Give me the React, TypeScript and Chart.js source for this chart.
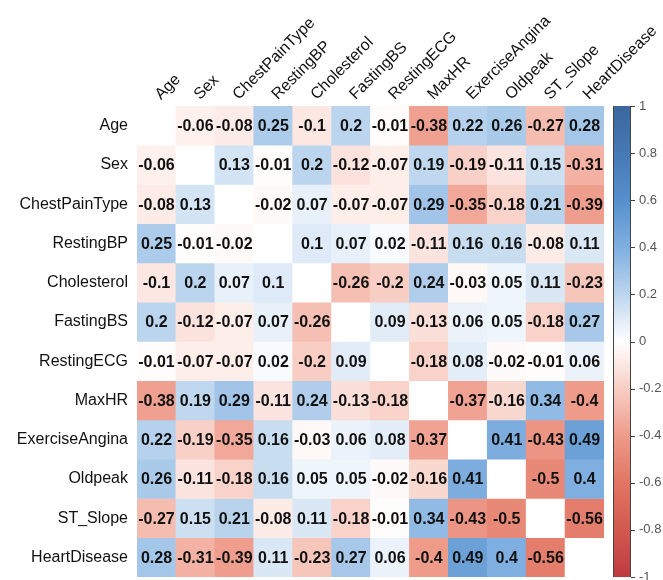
import React, { useEffect, useRef } from "react";
import { Chart, registerables } from "chart.js";

Chart.register(...registerables);

const variables = [
  "Age",
  "Sex",
  "ChestPainType",
  "RestingBP",
  "Cholesterol",
  "FastingBS",
  "RestingECG",
  "MaxHR",
  "ExerciseAngina",
  "Oldpeak",
  "ST_Slope",
  "HeartDisease",
];

// correlation matrix, rows in the same order as variables (null = diagonal, left blank)
const corrValues: (number | null)[][] = [
  [null, -0.06, -0.08, 0.25, -0.1, 0.2, -0.01, -0.38, 0.22, 0.26, -0.27, 0.28],
  [-0.06, null, 0.13, -0.01, 0.2, -0.12, -0.07, 0.19, -0.19, -0.11, 0.15, -0.31],
  [-0.08, 0.13, null, -0.02, 0.07, -0.07, -0.07, 0.29, -0.35, -0.18, 0.21, -0.39],
  [0.25, -0.01, -0.02, null, 0.1, 0.07, 0.02, -0.11, 0.16, 0.16, -0.08, 0.11],
  [-0.1, 0.2, 0.07, 0.1, null, -0.26, -0.2, 0.24, -0.03, 0.05, 0.11, -0.23],
  [0.2, -0.12, -0.07, 0.07, -0.26, null, 0.09, -0.13, 0.06, 0.05, -0.18, 0.27],
  [-0.01, -0.07, -0.07, 0.02, -0.2, 0.09, null, -0.18, 0.08, -0.02, -0.01, 0.06],
  [-0.38, 0.19, 0.29, -0.11, 0.24, -0.13, -0.18, null, -0.37, -0.16, 0.34, -0.4],
  [0.22, -0.19, -0.35, 0.16, -0.03, 0.06, 0.08, -0.37, null, 0.41, -0.43, 0.49],
  [0.26, -0.11, -0.18, 0.16, 0.05, 0.05, -0.02, -0.16, 0.41, null, -0.5, 0.4],
  [-0.27, 0.15, 0.21, -0.08, 0.11, -0.18, -0.01, 0.34, -0.43, -0.5, null, -0.56],
  [0.28, -0.31, -0.39, 0.11, -0.23, 0.27, 0.06, -0.4, 0.49, 0.4, -0.56, null],
];

const colorbarTicks = [1, 0.8, 0.6, 0.4, 0.2, 0, -0.2, -0.4, -0.6, -0.8, -1];

const colorStops = [-1, -0.8, -0.6, -0.4, -0.2, 0, 0.2, 0.4, 0.6, 0.8, 1];
const stopColors = [
  "#BE3A40",
  "#D2594F",
  "#E17563",
  "#EE9B8A",
  "#F8CEC4",
  "#FFFFFF",
  "#BCD5EE",
  "#7FAFE0",
  "#5590CC",
  "#4679B5",
  "#3A679D",
];

const FONT = '"Liberation Sans", Arial, Helvetica, sans-serif';

function hexToRgb(h: string): number[] {
  const n = parseInt(h.slice(1), 16);
  return [(n >> 16) & 255, (n >> 8) & 255, n & 255];
}

function colorFor(v: number | null): string {
  if (v === null) return "#FFFFFF";
  for (let i = 0; i < colorStops.length - 1; i++) {
    const a = colorStops[i];
    const b = colorStops[i + 1];
    if (v >= a && v <= b) {
      const t = (v - a) / (b - a);
      const ca = hexToRgb(stopColors[i]);
      const cb = hexToRgb(stopColors[i + 1]);
      const c = ca.map((x, k) => Math.round(x + (cb[k] - x) * t));
      return `rgb(${c[0]},${c[1]},${c[2]})`;
    }
  }
  return "#FFFFFF";
}

const valueLabels = {
  id: "valueLabels",
  afterDatasetsDraw(chart: any) {
    const ctx = chart.ctx;
    ctx.save();
    ctx.font = `bold 16px ${FONT}`;
    ctx.fillStyle = "#111111";
    ctx.textAlign = "center";
    ctx.textBaseline = "middle";
    chart.data.datasets.forEach((_ds: any, r: number) => {
      const meta = chart.getDatasetMeta(r);
      meta.data.forEach((el: any, c: number) => {
        const v = corrValues[r][c];
        if (v === null) return;
        const p = el.getProps(["x", "y", "base"], true);
        ctx.fillText(String(v), p.x, (p.y + p.base) / 2 + 1);
      });
    });
    ctx.restore();
  },
};

const colorBar = {
  id: "colorBar",
  afterDraw(chart: any) {
    const ctx = chart.ctx;
    const cb = chart.scales.cb;
    const area = chart.chartArea;
    const x0 = area.right + 9;
    const w = 18;
    const yTop = cb.getPixelForValue(1);
    const yBot = cb.getPixelForValue(-1);
    ctx.save();
    const grad = ctx.createLinearGradient(0, yBot, 0, yTop);
    colorStops.forEach((s, i) => grad.addColorStop((s + 1) / 2, stopColors[i]));
    ctx.fillStyle = grad;
    ctx.fillRect(x0, yTop, w, yBot - yTop);
    ctx.strokeStyle = "#444444";
    ctx.lineWidth = 1;
    ctx.beginPath();
    ctx.moveTo(x0 + 0.5, yTop);
    ctx.lineTo(x0 + 0.5, yBot);
    ctx.moveTo(x0 + w - 0.5, yTop);
    ctx.lineTo(x0 + w - 0.5, yBot);
    colorbarTicks.forEach((v) => {
      const y = Math.round(cb.getPixelForValue(v)) + 0.5;
      ctx.moveTo(x0 + w, y);
      ctx.lineTo(x0 + w + 4, y);
    });
    ctx.stroke();
    ctx.restore();
  },
};

export default function App() {
  const ref = useRef<HTMLCanvasElement>(null);

  useEffect(() => {
    if (!ref.current) return;
    const datasets = variables.map((row, r) => ({
      label: row,
      data: variables.map(() => 1),
      backgroundColor: corrValues[r].map(colorFor),
      borderWidth: 0,
      barPercentage: 1,
      categoryPercentage: 1,
      stack: "matrix",
      yAxisID: "y",
    }));

    const chart = new Chart(ref.current, {
      type: "bar",
      data: { labels: variables, datasets },
      plugins: [valueLabels, colorBar],
      options: {
        animation: false,
        responsive: false,
        layout: { padding: { left: 0, right: 0, top: 0, bottom: 3 } },
        plugins: {
          legend: { display: false },
          tooltip: { enabled: false },
          title: { display: false },
        },
        scales: {
          x: {
            type: "category",
            position: "top",
            stacked: true,
            offset: true,
            grid: { display: false, drawTicks: false },
            border: { display: false },
            ticks: {
              autoSkip: false,
              minRotation: 45,
              maxRotation: 45,
              padding: 2,
              labelOffset: 15,
              color: "#111111",
              font: { size: 16, family: FONT },
            },
            afterFit: (s: any) => {
              s.height = 106;
            },
          },
          y: {
            type: "linear",
            position: "left",
            stacked: true,
            reverse: true,
            min: 0,
            max: 12,
            grid: { display: false, drawTicks: false },
            border: { display: false },
            afterBuildTicks: (s: any) => {
              s.ticks = variables.map((_v, i) => ({ value: i + 0.5 }));
            },
            ticks: {
              padding: 9,
              color: "#111111",
              font: { size: 16, family: FONT },
              callback: (v: any) => variables[Math.floor(Number(v))],
            },
            afterFit: (s: any) => {
              s.width = 137;
              s.paddingTop = 0;
              s.paddingBottom = 0;
            },
          },
          cb: {
            type: "linear",
            position: "right",
            min: -1,
            max: 1,
            grid: { display: false, drawTicks: false },
            border: { display: false },
            afterBuildTicks: (s: any) => {
              s.ticks = colorbarTicks.map((v) => ({ value: v }));
            },
            ticks: {
              padding: 35,
              color: "#555555",
              font: { size: 13, family: FONT },
              callback: (v: any) => String(Math.round(Number(v) * 10) / 10),
            },
            afterFit: (s: any) => {
              s.width = 59;
              s.paddingTop = 0;
              s.paddingBottom = 0;
            },
          },
        },
      } as any,
    });
    return () => chart.destroy();
  }, []);

  return (
    <div style={{ position: "absolute", left: 0, top: 0, width: 663, height: 580 }}>
      <canvas ref={ref} width={663} height={580} style={{ display: "block" }} />
    </div>
  );
}
